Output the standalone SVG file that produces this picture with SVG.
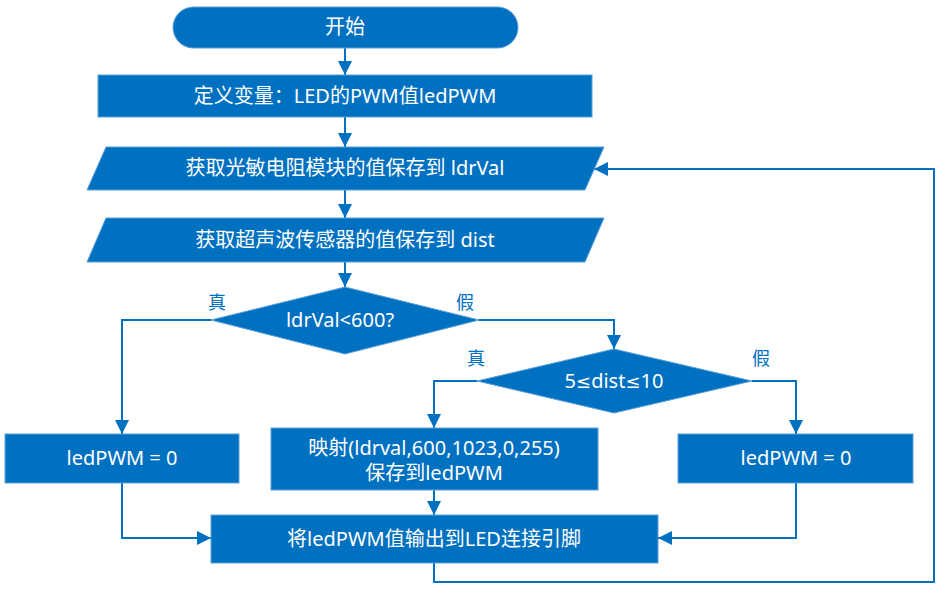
<svg xmlns="http://www.w3.org/2000/svg" width="942" height="590" viewBox="0 0 942 590">
<style>
.n{fill:#0070C0;stroke:#5a9fd8;stroke-width:1}
.t{fill:#fff;font-family:"Noto Sans","Noto Sans CJK SC",sans-serif;font-size:20px;text-anchor:middle}
.l{fill:#0070C0;font-family:"Noto Sans CJK SC",sans-serif;font-size:18px;text-anchor:middle}
.c{fill:none;stroke:#0070C0;stroke-width:2;marker-end:url(#a)}
.s{font-family:"DejaVu Sans",sans-serif;font-size:18px}
</style>
<defs>
<marker id="a" markerUnits="userSpaceOnUse" markerWidth="14" markerHeight="14" viewBox="0 0 14 14" refX="14" refY="7" orient="auto">
<path d="M0,0 L14,7 L0,14 z" fill="#0070C0"/>
</marker>
</defs>
<rect width="942" height="590" fill="#fff"/>
<g id="connectors">
<path class="c" d="M345,48 V75"/>
<path class="c" d="M345,117 V147"/>
<path class="c" d="M345,190 V218"/>
<path class="c" d="M345,262 V287"/>
<path class="c" d="M211,320 H122 V434"/>
<path class="c" d="M479,320 H614 V349"/>
<path class="c" d="M477,381 H434 V428"/>
<path class="c" d="M752,381 H796 V434"/>
<path class="c" d="M122,483 V538 H211"/>
<path class="c" d="M434,490 V515"/>
<path class="c" d="M796,483 V538 H658"/>
<path class="c" d="M434,563 V582 H934 V169 H594"/>
</g>
<g id="start"><rect class="n" x="173" y="7" width="345" height="41" rx="20.5"/><text class="t" x="345" y="34">开始</text></g>
<g id="define"><rect class="n" x="98" y="75" width="494" height="42"/><text class="t" x="345" y="103">定义变量：LED的PWM值ledPWM</text></g>
<g id="readLdr"><polygon class="n" points="106,147 604,147 585,190 87,190"/><text class="t" x="345" y="175">获取光敏电阻模块的值保存到 ldrVal</text></g>
<g id="readDist"><polygon class="n" points="106,218 604,218 585,262 87,262"/><text class="t" x="345" y="247">获取超声波传感器的值保存到 dist</text></g>
<g id="cond1"><polygon class="n" points="345,287 479,320 345,354 211,320"/><text class="t" x="340" y="327">ldrVal&lt;600?</text></g>
<g id="cond2"><polygon class="n" points="614,349 752,381 614,413 477,381"/><text class="t" x="614" y="388">5<tspan class="s">≤</tspan>dist<tspan class="s">≤</tspan>10</text></g>
<g id="setZero1"><rect class="n" x="5" y="434" width="234" height="49"/><text class="t" x="122" y="465">ledPWM = 0</text></g>
<g id="map"><rect class="n" x="271" y="428" width="327" height="62"/><text class="t" x="434" y="455">映射(ldrval,600,1023,0,255)</text><text class="t" x="434" y="480">保存到ledPWM</text></g>
<g id="setZero2"><rect class="n" x="678" y="434" width="235" height="49"/><text class="t" x="796" y="465">ledPWM = 0</text></g>
<g id="output"><rect class="n" x="211" y="515" width="447" height="48"/><text class="t" x="434" y="546">将ledPWM值输出到LED连接引脚</text></g>
<g id="labels">
<text class="l" x="217" y="309">真</text>
<text class="l" x="465" y="309">假</text>
<text class="l" x="476" y="365">真</text>
<text class="l" x="761" y="365">假</text>
</g>
</svg>
